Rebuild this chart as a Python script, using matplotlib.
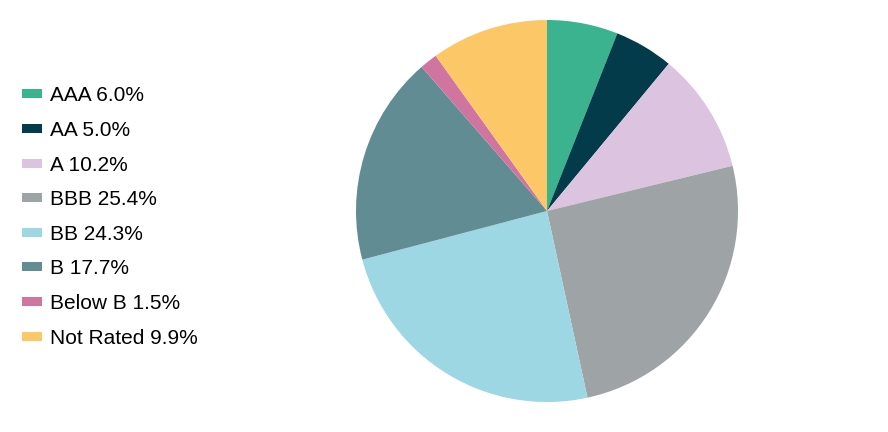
import matplotlib.pyplot as plt
from matplotlib.patches import Patch

plt.rcParams['font.family'] = ['Liberation Sans', 'DejaVu Sans']

ratings = ["AAA", "AA", "A", "BBB", "BB", "B", "Below B", "Not Rated"]
weights = [6.0, 5.0, 10.2, 25.4, 24.3, 17.7, 1.5, 9.9]
colors = ["#3BB38F", "#033B4A", "#DCC3E0", "#9EA3A5", "#9CD7E3", "#618C94", "#CF75A0", "#FCC867"]

fig = plt.figure(figsize=(8.88, 4.32), dpi=100)
ax = fig.add_axes([356 / 888, 30 / 432, 382 / 888, 382 / 432])
ax.pie(weights, colors=colors, startangle=90, counterclock=False, radius=1,
       wedgeprops=dict(linewidth=0))
ax.set_xlim(-1, 1)
ax.set_ylim(-1, 1)
ax.set_aspect('equal')

handles = [Patch(facecolor=c, edgecolor='none') for c in colors]
labels = [f"{r} {w:.1f}%" for r, w in zip(ratings, weights)]
fig.legend(handles, labels, loc='upper left', bbox_to_anchor=(14 / 888, 1 - 78 / 432),
           frameon=False, fontsize=15, handlelength=0.96, handleheight=0.29,
           handletextpad=0.36, labelspacing=0.75, borderaxespad=0)

fig.savefig("out.png", dpi=100)
